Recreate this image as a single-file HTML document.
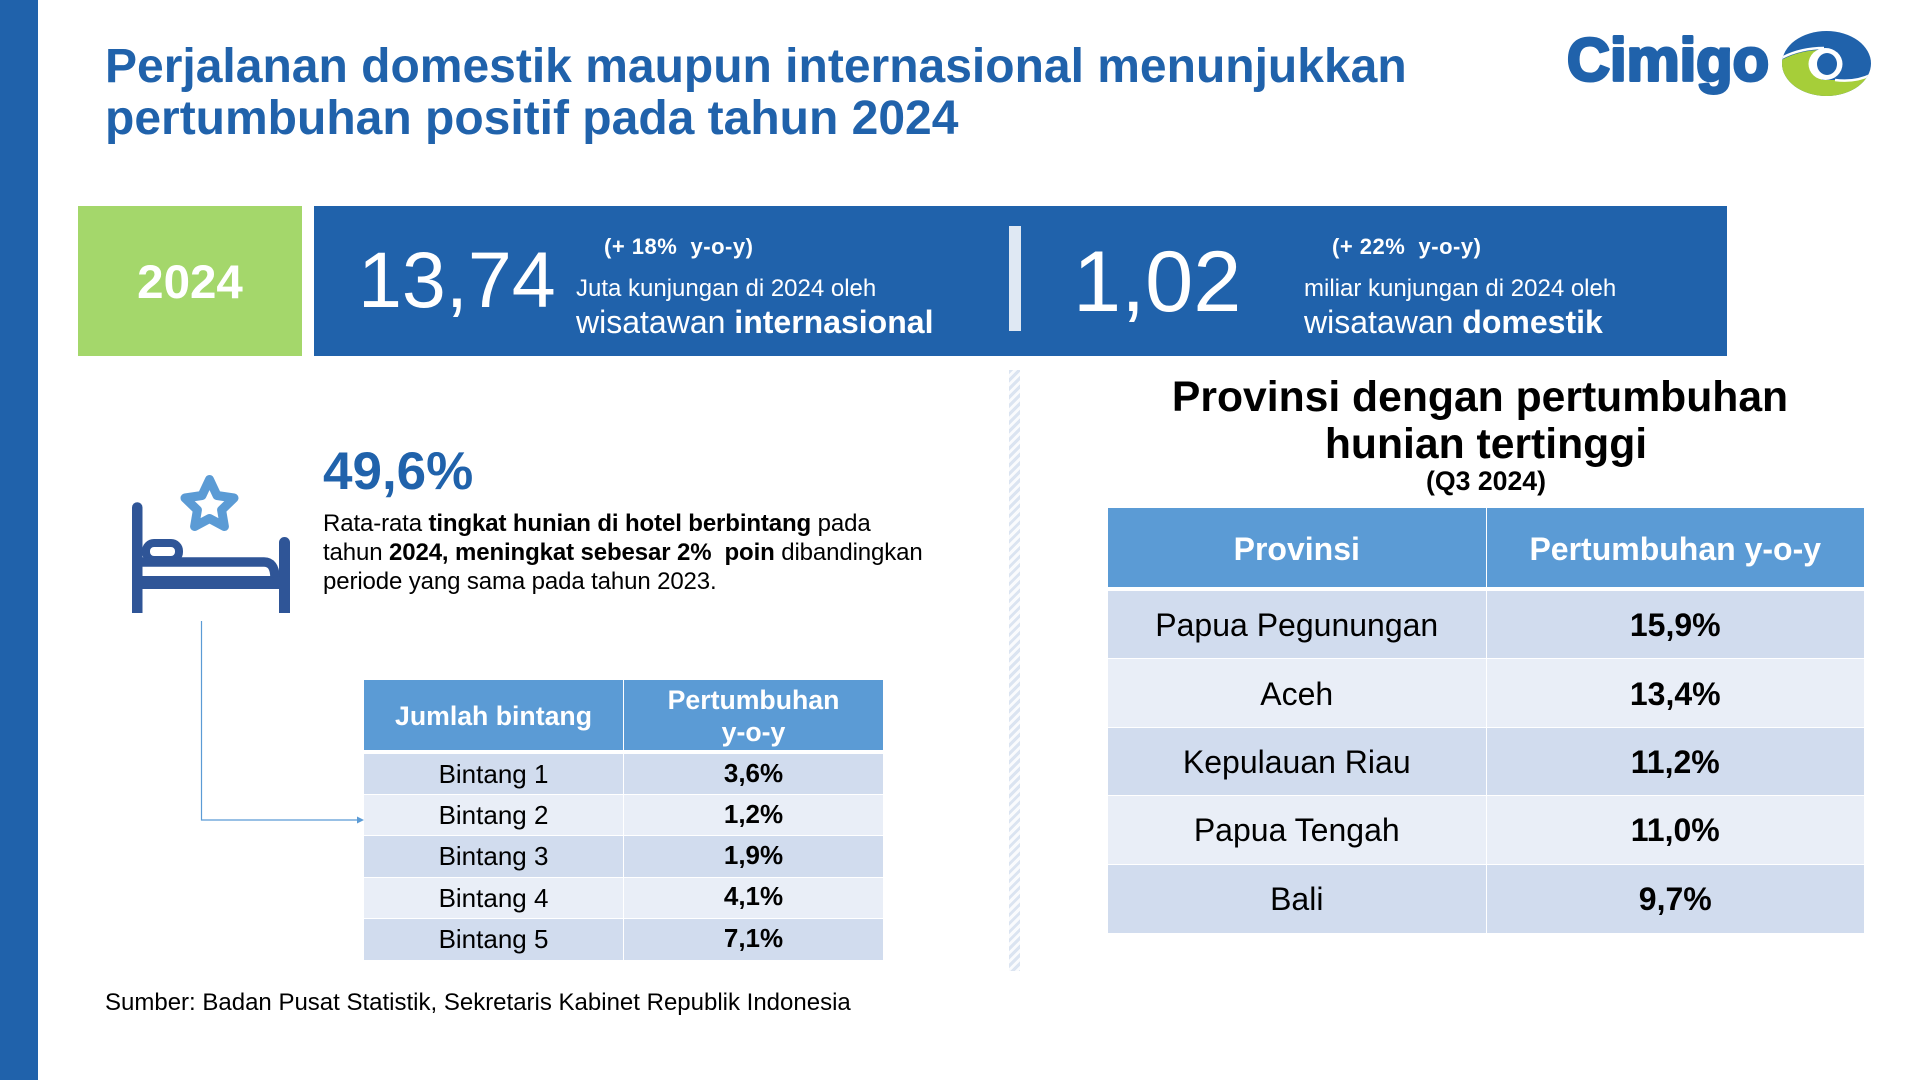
<!DOCTYPE html>
<html lang="id">
<head>
<meta charset="utf-8">
<title>Perjalanan domestik maupun internasional</title>
<style>
html,body{margin:0;padding:0;background:#fff;}
body{position:relative;width:1920px;height:1080px;overflow:hidden;font-family:"Liberation Sans",Arial,sans-serif;color:#000;}
.t{position:absolute;line-height:1.2;white-space:pre;margin:0;font-weight:400;}
.w{color:#fff;}
.box{position:absolute;}
table{position:absolute;border-collapse:separate;border-spacing:0;table-layout:fixed;text-align:center;}
td,th{box-sizing:border-box;padding:0;vertical-align:middle;border-right:1px solid #fff;border-bottom:1px solid #fff;}
tr td:last-child,tr th:last-child{border-right:0;}
th{background:#5b9bd5;color:#fff;font-weight:700;}
tr.a td{background:#d1dcee;}
tr.b td{background:#e9eef7;}
tr:last-child td{border-bottom:0;}
#small{left:364px;top:680px;width:519px;font-size:26px;}
#small th{height:74px;border-bottom:4px solid #fff;line-height:32px;font-size:26.67px;padding-top:2px;}
#small td{height:41.2px;padding-top:1px;}
#small td.v{font-weight:700;padding-bottom:3px;}
#big{left:1108px;top:508px;width:756px;font-size:32px;}
#big th{height:83px;border-bottom:4px solid #fff;padding-top:3px;}
#big td{height:68.4px;padding-top:2px;}
#big td.v{font-weight:700;}
</style>
</head>
<body>

<div class="box" style="left:0;top:0;width:38px;height:1080px;background:#2062ab"></div>

<h1 class="t" style="left:105px;top:41px;font-size:48px;line-height:52px;font-weight:700;color:#2062ab">Perjalanan domestik maupun internasional menunjukkan
pertumbuhan positif pada tahun 2024</h1>

<svg style="position:absolute;left:0;top:0" width="1920" height="120" viewBox="0 0 1920 120">
  <defs><clipPath id="eyeclip"><ellipse cx="1826.5" cy="63.5" rx="44.5" ry="32.5"/></clipPath></defs>
  <text x="1567" y="80.5" font-family="Liberation Sans" font-weight="700" font-size="60" fill="#2062ab" stroke="#2062ab" stroke-width="3" stroke-linejoin="round" textLength="202" lengthAdjust="spacingAndGlyphs">Cimigo</text>
  <g>
    <ellipse cx="1826.5" cy="63.5" rx="44.5" ry="32.5" fill="#2062ab"/>
    <path clip-path="url(#eyeclip)" d="M1778 62 Q1798 50 1822 50 L1822 80 L1837 80 Q1858 83 1876 72 L1876 100 L1778 100 Z" fill="#a6ce39"/>
    <path clip-path="url(#eyeclip)" d="M1778 60 Q1798 48 1824 48" fill="none" stroke="#fff" stroke-width="2.5"/>
    <path clip-path="url(#eyeclip)" d="M1835 80 Q1858 83 1876 72" fill="none" stroke="#fff" stroke-width="2.5"/>
    <ellipse cx="1825.5" cy="64" rx="17" ry="16" fill="#fff"/>
    <ellipse cx="1827" cy="64" rx="10" ry="11" fill="#2062ab"/>
  </g>
</svg>

<div class="box" style="left:78px;top:206px;width:224px;height:150px;background:#a4d76b"></div>
<div class="t w" style="left:78px;width:224px;text-align:center;top:254px;font-size:47.5px;font-weight:700">2024</div>

<div class="box" style="left:314px;top:206px;width:1413px;height:150px;background:#2062ab"></div>
<div class="t w" style="left:358px;top:232.5px;font-size:79px">13,74</div>
<div class="t w" style="left:604px;top:234px;font-size:22px;font-weight:700;letter-spacing:.5px">(+ 18%  y-o-y)</div>
<div class="t w" style="left:576px;top:275px;font-size:24px">Juta kunjungan di 2024 oleh</div>
<div class="t w" style="left:576px;top:303px;font-size:32px">wisatawan <b>internasional</b></div>
<div class="box" style="left:1009px;top:226px;width:12px;height:105px;background:#dfe8f3"></div>
<div class="t w" style="left:1073px;top:231px;font-size:86.5px">1,02</div>
<div class="t w" style="left:1332px;top:234px;font-size:22px;font-weight:700;letter-spacing:.5px">(+ 22%  y-o-y)</div>
<div class="t w" style="left:1304px;top:275px;font-size:24px">miliar kunjungan di 2024 oleh</div>
<div class="t w" style="left:1304px;top:303px;font-size:32px">wisatawan <b>domestik</b></div>

<svg style="position:absolute;left:0;top:440px" width="400" height="400" viewBox="0 440 400 400">
  <polygon points="209.5,479.5 217,495.5 234,498 221.6,510 224.4,526.5 209.5,518.5 194.6,526.5 197.4,510 185,498 202,495.5" fill="none" stroke="#5b9bd5" stroke-width="9" stroke-linejoin="round"/>
  <g fill="#2f5597">
    <path d="M132 613 V507.5 a5.25 5.25 0 0 1 10.5 0 V613 Z"/>
    <path d="M279 613 V542.5 a5.5 5.5 0 0 1 11 0 V613 Z"/>
    <rect x="142" y="576" width="138" height="13"/>
    <rect x="146" y="543" width="33" height="17" rx="8" fill="#fff" stroke="#2f5597" stroke-width="8"/>
    <path d="M142 562 H264 Q274.5 562 275 577" fill="none" stroke="#2f5597" stroke-width="9.5"/>
  </g>
  <g>
    <path d="M201.5 621 V820 H358" fill="none" stroke="#5b9bd5" stroke-width="1.2"/>
    <polygon points="357,816.5 364,820 357,823.5" fill="#5b9bd5"/>
  </g>
</svg>

<div class="t" style="left:323px;top:440px;font-size:53px;font-weight:700;color:#2062ab">49,6%</div>
<div class="t" style="left:323px;top:509px;font-size:24px;line-height:29px;letter-spacing:-.12px">Rata-rata <b>tingkat hunian di hotel berbintang</b> pada
tahun <b>2024, meningkat sebesar 2%  poin</b> dibandingkan
periode yang sama pada tahun 2023.</div>

<table id="small">
  <colgroup><col style="width:260px"><col style="width:259px"></colgroup>
  <tr><th>Jumlah bintang</th><th>Pertumbuhan<br>y-o-y</th></tr>
  <tr class="a"><td>Bintang 1</td><td class="v">3,6%</td></tr>
  <tr class="b"><td>Bintang 2</td><td class="v">1,2%</td></tr>
  <tr class="a"><td>Bintang 3</td><td class="v">1,9%</td></tr>
  <tr class="b"><td>Bintang 4</td><td class="v">4,1%</td></tr>
  <tr class="a"><td>Bintang 5</td><td class="v">7,1%</td></tr>
</table>

<div class="t" style="left:105px;top:988.5px;font-size:24px">Sumber: Badan Pusat Statistik, Sekretaris Kabinet Republik Indonesia</div>

<div class="box" style="left:1009px;top:370px;width:11px;height:601px;background:repeating-linear-gradient(135deg,#dbe4f1 0 3px,#fafbfd 3px 6px)"></div>

<div class="t" style="left:1108px;width:744px;text-align:center;top:372px;font-size:42.67px;font-weight:700">Provinsi dengan pertumbuhan</div>
<div class="t" style="left:1108px;width:756px;text-align:center;top:419px;font-size:42.67px;font-weight:700">hunian tertinggi</div>
<div class="t" style="left:1108px;width:756px;text-align:center;top:465px;font-size:26.67px;font-weight:700">(Q3 2024)</div>

<table id="big">
  <colgroup><col style="width:378.5px"><col style="width:377.5px"></colgroup>
  <tr><th>Provinsi</th><th>Pertumbuhan y-o-y</th></tr>
  <tr class="a"><td>Papua Pegunungan</td><td class="v">15,9%</td></tr>
  <tr class="b"><td>Aceh</td><td class="v">13,4%</td></tr>
  <tr class="a"><td>Kepulauan Riau</td><td class="v">11,2%</td></tr>
  <tr class="b"><td>Papua Tengah</td><td class="v">11,0%</td></tr>
  <tr class="a"><td>Bali</td><td class="v">9,7%</td></tr>
</table>

</body>
</html>
